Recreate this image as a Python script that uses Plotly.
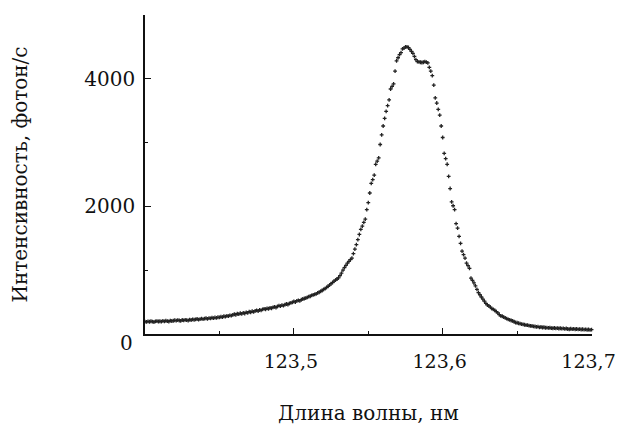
import plotly.graph_objects as go

# Wavelength grid (nm), step 0.001 from 123.400 to 123.700
wavelength = [round(123.400 + 0.001 * i, 3) for i in range(301)]

intensity = [
    195, 190, 198, 192, 200, 194, 188, 197, 203, 196,
    200, 193, 205, 198, 207, 201, 196, 210, 204, 208,
    215, 209, 218, 212, 205, 220, 214, 222, 217, 211,
    225, 219, 230, 223, 228, 235, 226, 232, 240, 233,
    240, 247, 236, 250, 244, 255, 248, 258, 252, 262,
    260, 270, 265, 278, 272, 285, 280, 292, 287, 300,
    310, 302, 318, 312, 325, 316, 330, 322, 338, 332,
    350, 341, 356, 348, 362, 370, 360, 378, 371, 385,
    395, 388, 402, 396, 410, 404, 418, 425, 415, 432,
    445, 438, 452, 446, 460, 470, 462, 480, 488, 495,
    510, 502, 518, 528, 520, 540, 548, 556, 562, 575,
    585, 592, 605, 612, 620, 630, 645, 655, 668, 682,
    700, 712, 730, 748, 765, 790, 805, 828, 845, 862,
    880, 915, 955, 1000, 1040, 1075, 1110, 1140, 1165, 1190,
    1260, 1330, 1400, 1480, 1560, 1640, 1690, 1750, 1800, 1950,
    2060, 2210, 2360, 2420, 2490, 2660, 2710, 2760, 2970, 3120,
    3260, 3380, 3490, 3580, 3670, 3840, 3880, 3920, 4120, 4280,
    4330, 4380, 4410, 4470, 4480, 4500, 4500, 4490, 4460, 4430,
    4400, 4350, 4300, 4270, 4265, 4260, 4255, 4260, 4270, 4262,
    4250, 4180, 4120, 4050, 3900, 3700, 3620, 3520, 3430, 3260,
    3080, 2830, 2750, 2660, 2470, 2280, 2070, 2010, 1950, 1730,
    1660, 1530, 1420, 1300, 1245, 1190, 1110, 1070, 1030, 875,
    840, 800, 755, 700, 650, 615, 580, 545, 515, 480,
    455, 440, 420, 398, 385, 370, 350, 330, 305, 285,
    278, 265, 252, 240, 230, 222, 212, 205, 192, 180,
    176, 168, 162, 155, 150, 145, 140, 138, 132, 128,
    125, 120, 118, 112, 115, 105, 110, 102, 106, 98,
    100, 95, 98, 92, 90, 94, 88, 92, 86, 90,
    84, 88, 80, 86, 78, 75, 82, 76, 80, 74,
    78, 72, 76, 70, 74, 68, 72, 66, 70, 64, 68,
]

x_tickvals = [123.5, 123.6, 123.7]
x_ticktext = ["123,5", "123,6", "123,7"]
y_tickvals = [2000, 4000]
y_ticktext = ["2000", "4000"]

FONT = "DejaVu Serif"
INK = "#111111"

fig = go.Figure()
fig.add_trace(go.Scatter(
    x=wavelength, y=intensity, mode="markers",
    marker=dict(symbol="cross", size=3.2, color="#222222", line=dict(width=0)),
    showlegend=False, hoverinfo="skip", cliponaxis=False,
))

fig.update_layout(
    width=618, height=436,
    margin=dict(l=145, r=26, t=15, b=102, autoexpand=False),
    paper_bgcolor="white", plot_bgcolor="white",
    font=dict(family=FONT, size=20, color=INK),
    xaxis=dict(
        range=[123.4, 123.7003], showgrid=False, zeroline=False, automargin=False,
        showline=True, linecolor=INK, linewidth=1.5,
        ticks="inside", ticklen=6, tickwidth=1.2, tickcolor=INK,
        tickvals=x_tickvals, ticktext=x_ticktext,
        tickfont=dict(family=FONT, size=19, color=INK),
        ticklabelstandoff=9, ticklabelshift=-3, ticklabeloverflow="allow",
        minor=dict(dtick=0.05, tick0=123.4, ticks="inside", ticklen=3, tickwidth=1, tickcolor=INK),
        title=dict(text="Длина волны, нм", font=dict(family=FONT, size=20), standoff=35),
    ),
    yaxis=dict(
        range=[0, 5000], showgrid=False, zeroline=False, automargin=False,
        showline=True, linecolor=INK, linewidth=1.5,
        ticks="inside", ticklen=6, tickwidth=1.2, tickcolor=INK,
        tickvals=y_tickvals, ticktext=y_ticktext,
        ticklabelstandoff=4, ticklabeloverflow="allow",
        minor=dict(dtick=1000, tick0=0, ticks="inside", ticklen=3, tickwidth=1, tickcolor=INK),
        title=dict(text="Интенсивность, фотон/с", font=dict(family=FONT, size=20), standoff=51),
    ),
)

fig.add_annotation(
    x=0, xref="paper", y=0, yref="y", text="0", showarrow=False,
    xanchor="right", yanchor="middle", xshift=-10, yshift=-9,
    font=dict(family=FONT, size=20, color=INK),
)

fig.write_html(
    "out.html",
    config={"displayModeBar": False},
    post_script="document.body.style.margin='0';document.body.style.overflow='hidden';",
)
